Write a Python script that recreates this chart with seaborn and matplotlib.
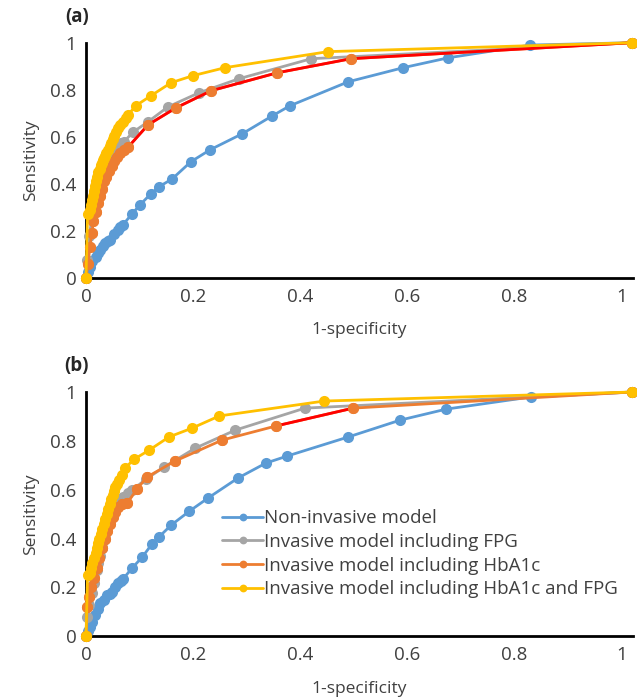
import numpy as np
import pandas as pd
import matplotlib
matplotlib.use("Agg")
import matplotlib.pyplot as plt
import seaborn as sns

sns.set_style("white")
plt.rcParams['font.family'] = ['Open Sans', 'DejaVu Sans']

# ---- data: (1-specificity, sensitivity) ----
labels = ["Non-invasive model", "Invasive model including FPG",
          "Invasive model including HbA1c", "Invasive model including HbA1c and FPG"]
colors = ["#5B9BD5", "#A5A5A5", "#ED7D31", "#FFC000"]

# panel (a)
a_blue_x = [0, 0.004, 0.007, 0.012, 0.018, 0.022, 0.026, 0.031, 0.036, 0.041, 0.045, 0.052, 0.06,
            0.064, 0.069, 0.086, 0.101, 0.121, 0.136, 0.161, 0.196, 0.232, 0.292, 0.348, 0.381,
            0.49, 0.593, 0.677, 0.83, 1.02]
a_blue_y = [0, 0.025, 0.047, 0.07, 0.09, 0.105, 0.119, 0.135, 0.15, 0.157, 0.162, 0.185, 0.204,
            0.215, 0.226, 0.272, 0.311, 0.357, 0.387, 0.421, 0.494, 0.545, 0.613, 0.689, 0.732,
            0.834, 0.894, 0.936, 0.99, 1.0]
a_gray_x = [0, 0.002, 0.006, 0.011, 0.014, 0.017, 0.02, 0.023, 0.026, 0.029, 0.032, 0.035,
            0.038, 0.041, 0.045, 0.049, 0.054, 0.058, 0.062, 0.066, 0.071, 0.088, 0.116, 0.153,
            0.211, 0.286, 0.421, 1.02]
a_gray_y = [0, 0.077, 0.18, 0.25, 0.28, 0.31, 0.34, 0.37, 0.39, 0.41, 0.43, 0.45,
            0.47, 0.49, 0.51, 0.53, 0.545, 0.555, 0.565, 0.572, 0.579, 0.62, 0.664, 0.727,
            0.787, 0.847, 0.932, 1.0]
a_orange_x = [0, 0.004, 0.007, 0.011, 0.014, 0.018, 0.022, 0.026, 0.03, 0.034, 0.038, 0.043,
              0.048, 0.053, 0.058, 0.064, 0.071, 0.079, 0.116, 0.168, 0.234, 0.357, 0.495, 1.02]
a_orange_y = [0, 0.06, 0.13, 0.19, 0.24, 0.28, 0.32, 0.35, 0.38, 0.41, 0.43, 0.455,
              0.475, 0.495, 0.515, 0.53, 0.545, 0.557, 0.651, 0.723, 0.796, 0.872, 0.932, 1.0]
a_yellow_x = [0, 0.003, 0.007, 0.009, 0.011, 0.013, 0.015, 0.017, 0.019, 0.021, 0.023, 0.026,
              0.028, 0.03, 0.032, 0.034, 0.036, 0.038, 0.041, 0.044, 0.047, 0.05, 0.053, 0.056,
              0.06, 0.064, 0.069, 0.074, 0.079, 0.093, 0.121, 0.159, 0.2, 0.26, 0.452, 1.02]
a_yellow_y = [0, 0.27, 0.29, 0.31, 0.33, 0.35, 0.37, 0.39, 0.41, 0.43, 0.45, 0.465,
              0.48, 0.489, 0.5, 0.51, 0.52, 0.53, 0.545, 0.56, 0.575, 0.59, 0.605, 0.62,
              0.638, 0.65, 0.664, 0.68, 0.694, 0.732, 0.774, 0.83, 0.86, 0.894, 0.962, 1.0]

# panel (b)
b_blue_x = [0, 0.004, 0.007, 0.012, 0.017, 0.022, 0.026, 0.033, 0.039, 0.044, 0.049, 0.055, 0.06,
            0.065, 0.069, 0.086, 0.105, 0.123, 0.136, 0.159, 0.193, 0.228, 0.284, 0.336, 0.376,
            0.49, 0.587, 0.673, 0.832, 1.02]
b_blue_y = [0, 0.02, 0.037, 0.06, 0.086, 0.11, 0.135, 0.15, 0.168, 0.175, 0.18, 0.2, 0.217,
            0.226, 0.234, 0.279, 0.324, 0.377, 0.406, 0.455, 0.512, 0.566, 0.648, 0.709, 0.738,
            0.816, 0.885, 0.93, 0.98, 1.0]
b_gray_x = [0, 0.002, 0.006, 0.011, 0.015, 0.02, 0.023, 0.026, 0.029, 0.032, 0.035, 0.038,
            0.041, 0.044, 0.047, 0.05, 0.054, 0.058, 0.063, 0.069, 0.078, 0.086, 0.112, 0.146,
            0.204, 0.279, 0.409, 1.02]
b_gray_y = [0, 0.078, 0.13, 0.176, 0.22, 0.27, 0.3, 0.33, 0.36, 0.39, 0.42, 0.44,
            0.46, 0.48, 0.5, 0.515, 0.529, 0.545, 0.56, 0.57, 0.585, 0.598, 0.643, 0.693,
            0.77, 0.844, 0.934, 1.0]
b_orange_x = [0, 0.002, 0.006, 0.01, 0.015, 0.02, 0.025, 0.03, 0.035, 0.04, 0.045, 0.05, 0.055,
              0.06, 0.068, 0.077, 0.095, 0.114, 0.166, 0.254, 0.355, 0.499, 1.02]
b_orange_y = [0, 0.12, 0.16, 0.2, 0.24, 0.28, 0.32, 0.36, 0.4, 0.43, 0.46, 0.49, 0.51,
              0.53, 0.54, 0.545, 0.602, 0.652, 0.717, 0.803, 0.861, 0.934, 1.0]
b_yellow_x = [0, 0.003, 0.007, 0.009, 0.012, 0.015, 0.018, 0.02, 0.023, 0.025, 0.028, 0.03,
              0.033, 0.036, 0.039, 0.042, 0.045, 0.047, 0.05, 0.052, 0.055, 0.058, 0.062, 0.067,
              0.073, 0.09, 0.118, 0.155, 0.198, 0.249, 0.445, 1.02]
b_yellow_y = [0, 0.25, 0.258, 0.28, 0.3, 0.32, 0.34, 0.36, 0.38, 0.4, 0.42, 0.44,
              0.46, 0.48, 0.5, 0.52, 0.54, 0.56, 0.58, 0.595, 0.61, 0.625, 0.64, 0.66,
              0.689, 0.725, 0.762, 0.816, 0.852, 0.902, 0.963, 1.0]

ticks = [0, 0.2, 0.4, 0.6, 0.8, 1]
tick_labels = ["0", "0.2", "0.4", "0.6", "0.8", "1"]

fig = plt.figure(figsize=(6.37, 7.0), dpi=100)
ax_a = fig.add_axes([0.135, 0.603, 0.859, 0.336])
ax_b = fig.add_axes([0.135, 0.091, 0.859, 0.349])

panels = [
    (ax_a, "(a)", [(a_blue_x, a_blue_y), (a_gray_x, a_gray_y), (a_orange_x, a_orange_y), (a_yellow_x, a_yellow_y)],
     (0.079, 1.02)),
    (ax_b, "(b)", [(b_blue_x, b_blue_y), (b_gray_x, b_gray_y), (b_orange_x, b_orange_y), (b_yellow_x, b_yellow_y)],
     (0.355, 0.499)),
]

MS = 8
style = dict(marker="o", markersize=MS, markeredgewidth=0, linewidth=2, clip_on=False, sort=False)

for ax, tag, series, red_span in panels:
    for i, (xs, ys) in enumerate(series):
        df = pd.DataFrame({"x": xs, "y": ys})
        sns.lineplot(data=df, x="x", y="y", ax=ax, color=colors[i], label=labels[i], **style)
        if i == 2:
            # red trend segment drawn over the HbA1c line, markers restored on top
            sub = df[(df.x >= red_span[0]) & (df.x <= red_span[1])]
            sns.lineplot(data=sub, x="x", y="y", ax=ax, color="#FF0000", linewidth=2,
                         sort=False, clip_on=False, legend=False)
            ax.plot(df.x, df.y, "o", color=colors[i], markersize=MS, markeredgewidth=0, clip_on=False)

    ax.set_xlim(0, 1.022)
    ax.set_ylim(0, 1.0)
    ax.set_xticks(ticks)
    ax.set_xticklabels(tick_labels)
    ax.set_yticks(ticks)
    ax.set_yticklabels(tick_labels)
    ax.tick_params(axis="both", length=0, labelsize=13.5, labelcolor="#404040", pad=7)
    for s in ["top", "right"]:
        ax.spines[s].set_visible(False)
    for s in ["left", "bottom"]:
        ax.spines[s].set_color("black")
        ax.spines[s].set_linewidth(2)
        ax.spines[s].set_zorder(0.5)
    ax.set_xlabel("1-specificity", fontsize=12.5, color="#404040", labelpad=12)
    ax.set_ylabel("Sensitivity", fontsize=12.5, color="#404040", labelpad=8)
    ax.text(0.005, 1.065, tag, transform=ax.transAxes, fontsize=13.5, fontweight="bold",
            ha="right", va="bottom")
    ax.get_legend().remove()

handles, labs = ax_b.get_legend_handles_labels()
ax_b.legend(handles[:4], labs[:4], loc="upper left", bbox_to_anchor=(0.235, 0.55), frameon=False,
            fontsize=13.5, handlelength=2.2, handletextpad=0.05, labelspacing=0.3, markerscale=0.7,
            borderaxespad=0, labelcolor="#404040")

plt.savefig("out.png", dpi=100)
